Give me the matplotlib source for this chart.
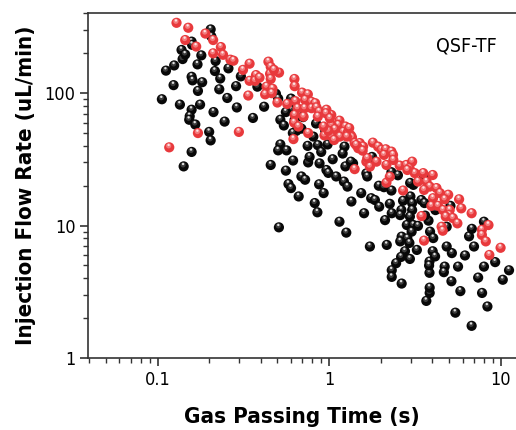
import matplotlib
matplotlib.use('Agg')
import matplotlib.pyplot as plt
from matplotlib import ticker
from matplotlib.transforms import offset_copy

# black series (gas passing time in s, injection flow rate in uL/min)
black_time = [0.106, 0.112, 0.125, 0.124, 0.135, 0.138, 0.14, 0.145, 0.158, 0.159,
              0.158, 0.16, 0.172, 0.182, 0.177, 0.158, 0.154, 0.153, 0.166, 0.18,
              0.171, 0.204, 0.206, 0.218, 0.216, 0.232, 0.259, 0.229, 0.255, 0.29,
              0.287, 0.306, 0.382, 0.36, 0.212, 0.246, 0.2, 0.204, 0.158, 0.142,
              0.418, 0.49, 0.505, 0.6, 0.6, 0.675, 0.705, 0.63, 0.52, 0.545,
              0.69, 0.645, 0.615, 0.81, 0.95, 0.52, 0.505, 0.565, 0.75, 0.86,
              0.9, 0.98, 1.23, 1.2, 1.05, 0.755, 0.88, 0.457, 0.617, 0.56,
              0.69, 0.965, 0.99, 1.1, 1.22, 1.28, 1.38, 1.245, 1.65, 1.67,
              1.78, 2.31, 2.52, 1.95, 2.09, 2.31, 1.54, 1.76, 1.85, 0.58,
              0.6, 0.665, 0.875, 0.93, 1.35, 0.825, 0.855, 1.6, 2.26, 2.7,
              2.98, 2.64, 3.05, 3.05, 3.58, 3.45, 3.6, 4.17, 3.1, 0.56,
              0.84, 0.77, 0.725, 0.51, 1.15, 1.34, 2.97, 1.96, 2.32, 2.6,
              2.96, 2.12, 2.84, 3.1, 3.3, 3.03, 1.26, 2.65, 2.86, 2.94,
              1.73, 2.17, 2.6, 2.77, 3.25, 2.63, 2.96, 2.46, 2.32, 2.32,
              2.65, 3.85, 3.85, 3.69, 3.86, 3.86, 4.72, 4.67, 5.17, 5.45,
              5.83, 6.78, 7.8, 8.38, 7.4, 10.3, 11.2, 9.3, 8.0, 6.2,
              5.65, 6.55, 7.0, 6.8, 8.0, 4.02, 4.15, 3.83, 5.2, 5.1,
              3.8, 3.63, 3.88, 4.05, 4.85, 4.85]
black_rate = [90, 148, 162, 115, 82, 212, 181, 196, 245, 232,
              133, 125, 104, 121, 82, 75, 67, 63, 58, 193,
              165, 303, 268, 175, 147, 129, 154, 107, 92, 78,
              113, 134, 112, 65, 72, 61, 51, 44, 36, 28,
              79, 99, 91, 91, 75, 68, 66, 63, 63, 57,
              54, 52, 50, 47, 52, 41, 37, 37, 40, 40.5,
              36, 41, 39.5, 35, 31.7, 30, 29.5, 28.7, 31, 26,
              23.5, 26.3, 25, 23.5, 21.5, 19.7, 29.5, 28, 24.8, 23.5,
              33, 25.3, 24, 20, 19.5, 18.4, 17.6, 16.1, 15.6, 20.6,
              19.2, 16.6, 20.5, 17.6, 15.2, 14.8, 12.6, 12.4, 14.6, 15.4,
              16.6, 13.1, 14.8, 13.1, 24, 15.6, 14.8, 13.1, 20.3, 72,
              59, 33, 22.2, 9.7, 10.7, 30.4, 21, 13.9, 12.4, 12.0,
              11.7, 11.0, 10.1, 10.1, 9.95, 9.0, 8.85, 8.25, 8.0, 7.4,
              6.95, 7.15, 7.6, 6.4, 6.55, 5.8, 5.6, 5.2, 4.6, 4.1,
              3.65, 4.4, 5.35, 2.7, 3.1, 3.4, 4.9, 4.45, 3.8, 2.2,
              3.2, 1.75, 3.1, 2.45, 4.05, 3.9, 4.6, 5.3, 4.9, 5.95,
              4.9, 8.3, 6.95, 9.45, 10.7, 6.4, 5.85, 5.0, 6.2, 14.1,
              10.9, 11.9, 9.0, 8.05, 9.8, 6.95]

# red series
red_time = [0.129, 0.151, 0.145, 0.168, 0.19, 0.211, 0.234, 0.211, 0.241, 0.266,
            0.277, 0.315, 0.344, 0.344, 0.375, 0.37, 0.338, 0.172, 0.298, 0.117,
            0.443, 0.457, 0.511, 0.453, 0.457, 0.393, 0.432, 0.468, 0.424, 0.50,
            0.628, 0.63, 0.696, 0.752, 0.725, 0.79, 0.83, 0.636, 0.57, 0.655,
            0.72, 0.79, 0.845, 0.875, 0.965, 1.03, 1.15, 1.13, 1.245, 1.03,
            1.08, 1.21, 1.29, 0.94, 0.86, 0.63, 0.755, 1.03, 1.155, 1.34,
            1.36, 1.41, 1.51, 1.58, 1.48, 1.8, 1.93, 2.02, 2.14, 2.31,
            2.36, 2.09, 1.89, 1.65, 2.16, 1.41, 1.73, 2.58, 2.82, 3.05,
            2.95, 3.16, 3.54, 3.3, 3.7, 3.86, 4.23, 4.43, 4.95, 5.73,
            4.72, 4.04, 3.58, 3.95, 4.32, 4.62, 5.05, 5.9, 6.78, 2.7,
            2.16, 2.26, 1.67, 0.99, 0.477, 0.463, 0.96, 1.01, 0.93, 0.71,
            0.625, 0.662, 1.07, 0.62, 1.31, 1.27, 1.44, 1.57, 2.37, 2.86,
            3.46, 3.58, 4.02, 5.03, 4.79, 5.27, 5.6, 8.5, 7.78, 7.78,
            8.2, 4.53, 4.6, 10.0, 8.6]
red_rate = [340, 312, 252, 225, 282, 252, 223, 200, 195, 179,
            176, 150, 167, 124, 137, 124, 96, 50, 51, 39,
            173, 158, 143, 140, 128, 131, 112, 108, 98, 85,
            128, 113, 101, 98, 89, 86, 84, 87, 83, 77,
            77, 77, 78, 72.5, 75, 68.5, 62, 57.5, 56, 57.5,
            53.4, 51, 51, 48, 66.5, 68.5, 50, 47.5, 47, 48,
            46.5, 42, 42, 39.5, 38.4, 42.3, 39.5, 37.3, 37.7, 36.2,
            34.2, 34.2, 30.4, 30.4, 28.7, 26.7, 27.9, 28.4, 28.7, 30.4,
            27.1, 24.9, 24.9, 21.5, 21.5, 19.7, 19.2, 17.6, 17.1, 15.8,
            15.8, 16.1, 18.6, 14.1, 14.1, 13.1, 13.1, 13.5, 12.4, 18.4,
            21.1, 23.4, 32.3, 52, 150, 100, 70.5, 64.7, 56, 66.5,
            60, 56, 44.3, 45, 54.5, 47, 40.6, 36.8, 31.3, 26.3,
            11.8, 7.7, 24.1, 12.0, 11.7, 11.4, 10.4, 10.1, 9.3, 8.5,
            7.6, 9.8, 9.15, 6.8, 6.0]

plt.rcParams['font.family'] = ['DejaVu Sans']
plt.rcParams['font.stretch'] = 'condensed'

fig = plt.figure(figsize=(5.16, 4.30), dpi=100)
ax = fig.add_axes([0.1705, 0.1674, 0.8295, 0.8023])


def spheres(xs, ys, base, mid, hi):
    # fake a shaded ball: dark disc, lighter cap, small glint
    t_mid = offset_copy(ax.transData, fig=fig, x=-0.6, y=1.5, units='dots')
    t_hi = offset_copy(ax.transData, fig=fig, x=-0.6, y=2.4, units='dots')
    for x, y in zip(xs, ys):
        ax.scatter([x], [y], s=54, color=base, edgecolors='none', zorder=3)
        ax.scatter([x], [y], s=14, color=mid, edgecolors='none', zorder=3, transform=t_mid)
        ax.scatter([x], [y], s=3, color=hi, edgecolors='none', zorder=3, transform=t_hi)


spheres(black_time, black_rate, '#080808', '#3c3c3c', '#e0e0e0')
spheres(red_time, red_rate, '#e8393c', '#f27b7d', '#fde3e3')

ax.set_xscale('log')
ax.set_yscale('log')
ax.set_xlim(0.0393, 12.3)
ax.set_ylim(1.0, 403)

fmt = ticker.FuncFormatter(lambda v, _: f'{v:g}')
ax.xaxis.set_major_formatter(fmt)
ax.yaxis.set_major_formatter(fmt)
ax.xaxis.set_minor_formatter(ticker.NullFormatter())
ax.yaxis.set_minor_formatter(ticker.NullFormatter())

for side in ['left', 'bottom', 'top']:
    ax.spines[side].set_linewidth(1.2)
    ax.spines[side].set_color('#333333')
ax.spines['right'].set_visible(False)

ax.tick_params(which='major', direction='out', length=6, width=1.2, color='#333333',
               labelsize=13, pad=3)
ax.tick_params(which='minor', direction='out', length=3.5, width=1.0, color='#333333')
ax.tick_params(top=False, right=False, which='both')

ax.set_xlabel('Gas Passing Time (s)', fontsize=16, fontweight='bold', labelpad=13)
ax.set_ylabel('Injection Flow Rate (uL/min)', fontsize=16, fontweight='bold', labelpad=6)

ax.text(0.885, 0.905, 'QSF-TF', transform=ax.transAxes, fontsize=14,
        ha='center', va='center')

fig.savefig('out.png', dpi=100)
